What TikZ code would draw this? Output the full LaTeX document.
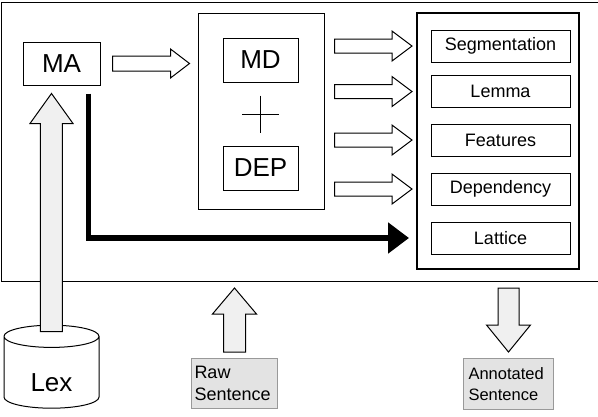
\documentclass[tikz,border=0pt]{standalone}
\usepackage{fontspec}
\setmainfont{Liberation Sans}
\usetikzlibrary{arrows.meta,calc,positioning,shapes.geometric}

% block arrow: [style]{from}{to}{shaft half width}{head half width}{head length}
\newcommand{\hollowarrow}[6][]{%
  \draw[#1] let \p1=#2, \p2=#3, \n1={atan2(\y2-\y1,\x2-\x1)}, \n2={veclen(\x2-\x1,\y2-\y1)} in
    ($(\p1)+(\n1+90:#4)$) -- ++(\n1:\n2-#6) -- ++(\n1+90:#5-#4) -- (\p2)
    -- ($(\p2)+(\n1+180:#6)+(\n1-90:#5)$) -- ++(\n1+90:#5-#4) -- ($(\p1)+(\n1-90:#4)$) -- cycle;}

\begin{document}
\begin{tikzpicture}[x=1pt,y=-1pt,line width=1pt]
  \tikzset{
    box/.style={draw,inner sep=0pt,font=\fontsize{26}{30}\selectfont},
    part/.style={draw,inner sep=0pt,minimum width=139pt,minimum height=32pt,font=\fontsize{18}{21}\selectfont},
    io/.style={draw=gray!80,fill=gray!22,inner sep=3pt,align=left,anchor=north west},
    white arrow/.style={draw,fill=white},
    gray arrow/.style={draw,fill=gray!12},
    lead/.style={line width=5.5pt,-{Triangle[length=21pt,width=30pt]}}
  }
  \useasboundingbox (0,0) rectangle (598,416);
  \node[draw,minimum width=602pt,minimum height=279.5pt,anchor=north west,inner sep=0pt] (frame) at (1,1.5) {};

  \node[box,minimum width=77pt,minimum height=43pt] (ma) at (61.5,63.5) {MA};
  \node[draw,minimum width=126pt,minimum height=196pt,inner sep=0pt] (stack) at (261,111) {};
  \node[box,minimum width=75pt,minimum height=44pt] (md) at (260.5,60) {MD};
  \node[box,minimum width=75pt,minimum height=44pt] (dep) at (260.5,168) {DEP};
  \coordinate (plus) at ($(md)!0.5!(dep)$);
  \draw ($(plus)+(-18.5,0)$) -- ($(plus)+(18.5,0)$);
  \draw ($(plus)+(0,-18.5)$) -- ($(plus)+(0,18.5)$);

  \node[draw,line width=2pt,minimum width=162pt,minimum height=256pt] (results) at (498,141) {};
  \node[part] (seg) at (500.5,46) {Segmentation};
  \node[part] (lemma) at (500.5,91.5) {Lemma};
  \node[part] (feat) at (500.5,140) {Features};
  \node[part] (depc) at (500.5,189) {Dependency};
  \node[part] (lattice) at (500.5,238) {Lattice};

  \node[cylinder,draw,shape border rotate=90,shape aspect=0.53,minimum width=95pt,minimum height=83pt,
        inner sep=0pt,text height=37pt,text depth=0pt,font=\fontsize{26}{30}\selectfont] (lex) at (51.5,372.5) {Lex};
  \node[io,text width=80pt,minimum height=50pt,font=\fontsize{18}{22}\selectfont] (raw) at (191,358) {Raw\\Sentence};
  \node[io,text width=80pt,minimum height=51pt,inner xsep=5pt,font=\fontsize{16.5}{21}\selectfont] (annot) at (463,358) {Annotated\\Sentence};

  % arrows
  \hollowarrow[white arrow]{($(ma.east)+(12,0)$)}{($(stack.west |- ma.east)+(-8,0)$)}{7.5pt}{14.5pt}{19pt}
  \foreach \lbl in {seg,lemma,feat,depc}
    \hollowarrow[white arrow]{($(stack.east |- \lbl.west)+(10,0)$)}{($(results.west |- \lbl.west)+(-4,0)$)}{7pt}{15pt}{20pt};
  \hollowarrow[gray arrow]{($(lex.north)+(0,7)$)}{($(lex.north |- ma.south)+(0,8)$)}{11pt}{21.5pt}{30pt}
  \hollowarrow[gray arrow]{($(raw.north)+(0,-6)$)}{($(raw.north |- frame.south)+(0,6)$)}{11pt}{22pt}{26pt}
  \hollowarrow[gray arrow]{($(annot.north |- frame.south)+(0,6)$)}{($(annot.north)+(0,-6)$)}{10.5pt}{22pt}{27pt}
  \draw[lead] ($(ma.south east)+(-12,8)$) |- ($(results.west |- lattice.west)+(-7,0)$);
\end{tikzpicture}
\end{document}
